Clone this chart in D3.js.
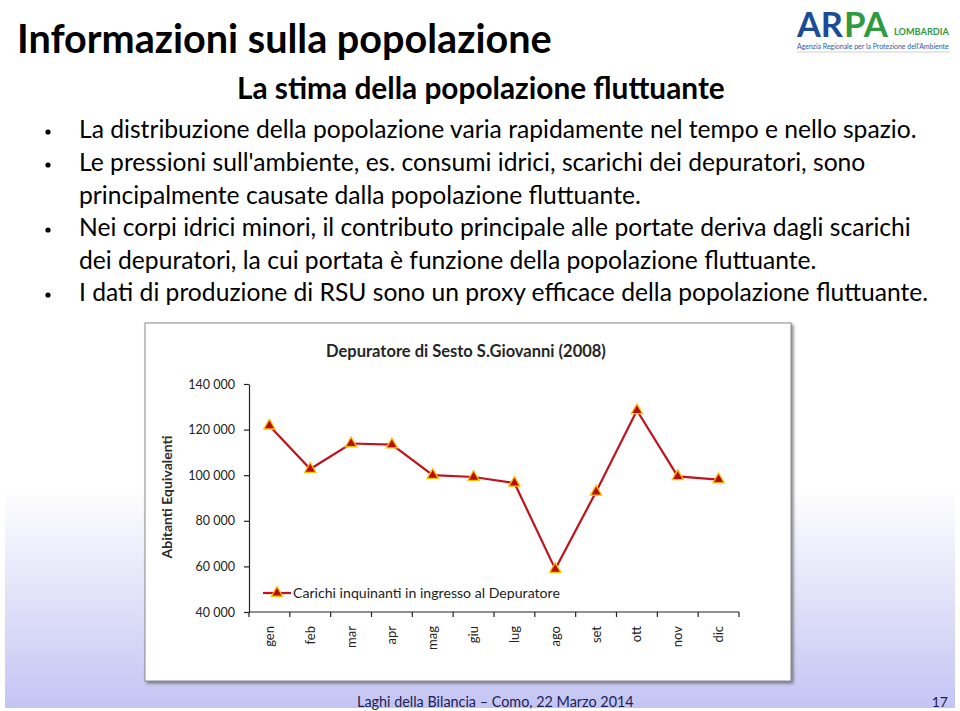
<!DOCTYPE html>
<html>
<head>
<meta charset="utf-8">
<script src="https://cdn.jsdelivr.net/npm/d3@7"></script>
<style>
  html, body { margin: 0; padding: 0; background: #ffffff; }
  svg { display: block; }
  text { font-family: Lato, "Open Sans", "DejaVu Sans", sans-serif; }
</style>
</head>
<body>
<svg id="slide" width="960" height="711"></svg>
<script>
// ---------------- DATA ----------------
const months = ["gen","feb","mar","apr","mag","giu","lug","ago","set","ott","nov","dic"];
const carichi = [121700, 102700, 113900, 113400, 100000, 99200, 96600, 58800, 92700, 128400, 99500, 98100];
const yTicks = [40000, 60000, 80000, 100000, 120000, 140000];
const seriesName = "Carichi inquinanti in ingresso al Depuratore";
const chartTitle = "Depuratore di Sesto S.Giovanni (2008)";
const yTitle = "Abitanti  Equivalenti";
const slideTitle = "Informazioni sulla popolazione";
const slideSubtitle = "La stima della popolazione fluttuante";
const bulletLines = [
  {text: "La distribuzione della popolazione varia rapidamente nel tempo e nello spazio.", bullet: true},
  {text: "Le pressioni sull'ambiente, es. consumi idrici, scarichi dei depuratori, sono", bullet: true},
  {text: "principalmente causate dalla popolazione fluttuante.", bullet: false},
  {text: "Nei corpi idrici minori, il contributo principale alle portate deriva dagli scarichi", bullet: true},
  {text: "dei depuratori, la cui portata è funzione della popolazione fluttuante.", bullet: false},
  {text: "I dati di produzione di RSU sono un proxy efficace della popolazione fluttuante.", bullet: true}
];
const footerText = "Laghi della Bilancia – Como, 22 Marzo 2014";
const pageNumber = "17";

// ---------------- HELPERS ----------------
function fit(sel, w) {
  const len = sel.node().getComputedTextLength();
  const fs = parseFloat(sel.attr("font-size"));
  if (len > 0) sel.attr("font-size", (fs * w / len).toFixed(2));
  return sel;
}

const svg = d3.select("#slide");
const defs = svg.append("defs");

// background gradient (lower part of slide)
const grad = defs.append("linearGradient").attr("id", "bg").attr("x1", 0).attr("y1", 0).attr("x2", 0).attr("y2", 1);
grad.append("stop").attr("offset", "0%").attr("stop-color", "#ffffff");
grad.append("stop").attr("offset", "100%").attr("stop-color", "#c4c4f4");
svg.append("rect").attr("x", 5).attr("y", 488).attr("width", 950).attr("height", 220).attr("fill", "url(#bg)");

// shadow filter for chart frame
const f = defs.append("filter").attr("id", "shadow").attr("x", "-5%").attr("y", "-5%").attr("width", "115%").attr("height", "115%");
f.append("feDropShadow").attr("dx", 2).attr("dy", 2).attr("stdDeviation", 1.5).attr("flood-color", "#555").attr("flood-opacity", 0.7);

// ---------------- SLIDE TEXT ----------------
fit(svg.append("text").attr("x", 17).attr("y", 53).attr("font-size", 32).attr("font-weight", "bold")
  .attr("fill", "#000").text(slideTitle), 535);
fit(svg.append("text").attr("x", 237).attr("y", 99).attr("font-size", 22).attr("font-weight", "bold")
  .attr("fill", "#000").text(slideSubtitle), 488);

const lineBase = [138, 171, 204, 236, 269, 301];
// common font size for the bullet body, fitted on the longest line
const probe = svg.append("text").attr("font-size", 20).text(bulletLines[3].text);
const bodySize = 20 * 832 / probe.node().getComputedTextLength();
probe.remove();
bulletLines.forEach((l, i) => {
  if (l.bullet) {
    svg.append("circle").attr("cx", 48).attr("cy", lineBase[i] - 6).attr("r", 2.6).attr("fill", "#000");
  }
  svg.append("text").attr("x", 79).attr("y", lineBase[i]).attr("font-size", bodySize.toFixed(2)).attr("fill", "#000").text(l.text);
});

// ---------------- LOGO ----------------
const logo = svg.append("g");
fit(logo.append("text").attr("x", 797).attr("y", 37).attr("font-size", 36).attr("font-weight", "bold")
  .attr("fill", "#1d4c96").text("AR"), 46);
fit(logo.append("text").attr("x", 844).attr("y", 37).attr("font-size", 36).attr("font-weight", "bold")
  .attr("fill", "#2f9a3f").text("PA"), 44);
fit(logo.append("text").attr("x", 894).attr("y", 35).attr("font-size", 8).attr("font-weight", "bold")
  .attr("fill", "#2f9a3f").text("LOMBARDIA"), 55);
fit(logo.append("text").attr("x", 797).attr("y", 49).attr("font-size", 7)
  .attr("fill", "#2a5aa0").text("Agenzia Regionale per la Protezione dell'Ambiente"), 152);
logo.append("line").attr("x1", 797).attr("x2", 950).attr("y1", 52).attr("y2", 52).attr("stroke", "#d0d0d0").attr("stroke-width", 1);

// ---------------- CHART FRAME ----------------
svg.append("rect").attr("x", 145).attr("y", 323).attr("width", 646).attr("height", 358)
  .attr("fill", "#fff").attr("stroke", "#8a8a8a").attr("stroke-width", 1).attr("filter", "url(#shadow)");

// ---------------- CHART ----------------
const x = d3.scaleBand().domain(months).range([249, 739]);
const y = d3.scaleLinear().domain([40000, 140000]).range([612, 384]);
const loc = d3.formatLocale({decimal: ",", thousands: "\u00a0", grouping: [3], currency: ["", "€"]});
const fmt = loc.format(",d");

const g = svg.append("g");

// chart title
fit(g.append("text").attr("x", 466).attr("y", 357).attr("text-anchor", "middle").attr("font-size", 15)
  .attr("font-weight", "bold").attr("fill", "#262626").text(chartTitle), 280);

// y axis
const yAxis = g.append("g").attr("transform", `translate(${x.range()[0]},0)`)
  .call(d3.axisLeft(y).tickValues(yTicks).tickFormat(fmt).tickSize(5).tickSizeOuter(0).tickPadding(9));
yAxis.select(".domain").attr("stroke", "#222").attr("stroke-width", 1.2);
yAxis.selectAll(".tick line").attr("stroke", "#222").attr("stroke-width", 1.2);
yAxis.selectAll(".tick text").attr("font-family", "Lato, sans-serif").attr("font-size", 12.5)
  .attr("fill", "#222");

// y title
const yT = g.append("text").attr("transform", `translate(172,497) rotate(-90)`)
  .attr("text-anchor", "middle").attr("font-size", 13).attr("font-weight", "bold").attr("fill", "#2a2a2a").text(yTitle);
fit(yT, 123);

// x axis: domain + boundary ticks
const xAxis = g.append("g").attr("transform", `translate(0,${y(40000)})`);
xAxis.append("line").attr("x1", x.range()[0]).attr("x2", x.range()[1]).attr("stroke", "#222").attr("stroke-width", 1.2);
const bounds = months.map(m => x(m)).concat([x.range()[1]]);
xAxis.selectAll("line.tk").data(bounds).join("line").attr("class", "tk")
  .attr("x1", d => d).attr("x2", d => d).attr("y1", 0).attr("y2", 5).attr("stroke", "#222").attr("stroke-width", 1.2);
xAxis.selectAll("text.lb").data(months).join("text").attr("class", "lb")
  .attr("transform", d => `translate(${x(d) + x.bandwidth() / 2},${14}) rotate(-90)`)
  .attr("text-anchor", "end").attr("dy", "0.35em").attr("font-size", 13).attr("fill", "#222").text(d => d);

// line
const pts = months.map((m, i) => [x(m) + x.bandwidth() / 2, y(carichi[i])]);
g.append("path").datum(pts).attr("d", d3.line()).attr("fill", "none").attr("stroke", "#c0131b").attr("stroke-width", 2.2);

// markers
const tri = d3.symbol().type(d3.symbolTriangle).size(55);
g.selectAll("path.mk").data(pts).join("path").attr("class", "mk")
  .attr("transform", d => `translate(${d[0]},${d[1]})`).attr("d", tri)
  .attr("fill", "#b80d0d").attr("stroke", "#ffc000").attr("stroke-width", 1.3);

// legend
const lg = g.append("g").attr("transform", "translate(263,593)");
lg.append("line").attr("x1", 0).attr("x2", 28).attr("stroke", "#c0131b").attr("stroke-width", 2.2);
lg.append("path").attr("transform", "translate(14,0)").attr("d", tri).attr("fill", "#b80d0d").attr("stroke", "#ffc000").attr("stroke-width", 1.3);
fit(lg.append("text").attr("x", 30).attr("y", 5).attr("font-size", 14).attr("fill", "#222").text(seriesName), 267);

// ---------------- FOOTER ----------------
fit(svg.append("text").attr("x", 357).attr("y", 707).attr("font-size", 14).attr("fill", "#1b1f55").text(footerText), 277);
svg.append("text").attr("x", 948).attr("y", 707).attr("text-anchor", "end").attr("font-size", 14).attr("fill", "#1b1f55").text(pageNumber);
</script>
</body>
</html>
